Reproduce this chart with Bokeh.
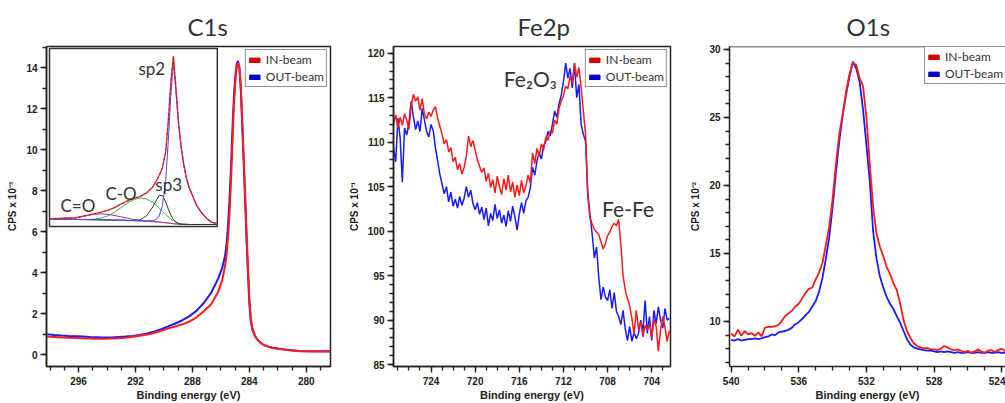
from bokeh.plotting import figure
from bokeh.layouts import row
from bokeh.models import (Range1d, SingleIntervalTicker, Legend, LegendItem,
                          BoxAnnotation, Label, Span)
from bokeh.embed import file_html
from bokeh.resources import INLINE
from bokeh.core.properties import value

# ---------------------------------------------------------------- data
# C 1s survey, counts x 10^-3
c1s_energy = [298.2, 297.7, 297.2, 296.7, 296.2, 295.7, 295.2, 294.7, 294.2, 293.7,
              293.2, 292.7, 292.2, 291.7, 291.2, 290.7, 290.2, 289.7, 289.2, 288.7,
              288.2, 287.7, 287.2, 286.7, 286.2, 285.9, 285.7, 285.6, 285.5, 285.4,
              285.3, 285.2, 285.1, 285.0, 284.9, 284.8, 284.7, 284.6, 284.5, 284.4,
              284.3, 284.2, 284.1, 284.0, 283.9, 283.8, 283.6, 283.4, 283.2, 283.0,
              282.7, 282.4, 282.0, 281.5, 281.0, 280.5, 280.0, 279.5, 279.0, 278.3]
c1s_out = [1.00, 0.96, 0.93, 0.91, 0.90, 0.88, 0.86, 0.85, 0.84, 0.84,
           0.86, 0.88, 0.91, 0.96, 1.03, 1.12, 1.24, 1.38, 1.52, 1.68,
           1.88, 2.15, 2.52, 3.00, 3.70, 4.25, 4.85, 5.40, 6.30, 7.50,
           9.00, 10.80, 12.40, 13.50, 14.15, 14.35, 14.00, 12.90, 11.20, 9.40,
           7.60, 5.70, 4.00, 2.50, 1.65, 1.25, 0.90, 0.70, 0.58, 0.48,
           0.40, 0.35, 0.30, 0.25, 0.21, 0.18, 0.17, 0.16, 0.16, 0.16]
c1s_in = [0.88, 0.86, 0.84, 0.82, 0.81, 0.80, 0.79, 0.78, 0.78, 0.79,
          0.80, 0.83, 0.87, 0.92, 0.98, 1.06, 1.16, 1.28, 1.38, 1.48,
          1.62, 1.82, 2.12, 2.45, 3.05, 3.65, 4.35, 4.90, 5.70, 6.80,
          8.30, 10.10, 11.90, 13.20, 14.00, 14.25, 14.05, 13.10, 11.50, 9.70,
          7.90, 6.00, 4.30, 2.75, 1.80, 1.32, 0.92, 0.70, 0.57, 0.47,
          0.39, 0.33, 0.29, 0.24, 0.20, 0.17, 0.16, 0.15, 0.15, 0.15]

# C 1s peak fit (inset)
fit_energy = [294.0, 293.0, 292.0, 291.0, 290.5, 290.0, 289.5, 289.0, 288.5, 288.0,
              287.5, 287.0, 286.5, 286.0, 285.75, 285.5, 285.25, 285.0, 284.8, 284.6,
              284.4, 284.2, 284.0, 283.8, 283.6, 283.4, 283.2, 283.0, 282.6, 282.2,
              281.8, 281.4, 281.0]
fit_background = [0.32, 0.31, 0.30, 0.29, 0.28, 0.27, 0.26, 0.25, 0.24, 0.22,
                  0.20, 0.18, 0.15, 0.12, 0.10, 0.08, 0.05, 0.02, 0.00, -0.03,
                  -0.06, -0.08, -0.10, -0.11, -0.12, -0.12, -0.13, -0.13, -0.13, -0.13,
                  -0.13, -0.13, -0.13]
fit_c_double_o = [0.36, 0.40, 0.42, 0.67, 0.75, 0.78, 0.74, 0.65, 0.54, 0.42,
                  0.30, 0.22, 0.16, 0.12, 0.10, 0.08, 0.05, 0.02, 0.00, -0.03,
                  -0.06, -0.08, -0.10, -0.11, -0.12, -0.12, -0.13, -0.13, -0.13, -0.13,
                  -0.13, -0.13, -0.13]
fit_c_o = [0.32, 0.31, 0.30, 0.29, 0.33, 0.42, 0.61, 0.90, 1.29, 1.67,
           2.00, 2.15, 2.07, 1.77, 1.55, 1.28, 1.00, 0.72, 0.52, 0.34,
           0.19, 0.07, -0.02, -0.07, -0.10, -0.12, -0.13, -0.13, -0.13, -0.13,
           -0.13, -0.13, -0.13]
fit_sp3 = [0.32, 0.31, 0.30, 0.29, 0.28, 0.27, 0.26, 0.25, 0.24, 0.22,
           0.22, 0.26, 0.60, 1.37, 1.90, 2.38, 2.35, 1.82, 1.20, 0.67,
           0.29, 0.07, -0.05, -0.11, -0.12, -0.12, -0.13, -0.13, -0.13, -0.13,
           -0.13, -0.13, -0.13]
fit_sp2 = [0.32, 0.31, 0.30, 0.29, 0.28, 0.27, 0.26, 0.25, 0.24, 0.22,
           0.20, 0.18, 0.18, 0.20, 0.30, 0.60, 1.50, 3.60, 7.00, 11.00,
           13.75, 11.20, 8.40, 6.50, 5.00, 3.90, 3.10, 2.55, 1.50, 0.85,
           0.35, 0.05, -0.05]
fit_envelope = [0.36, 0.40, 0.45, 0.67, 0.80, 0.93, 1.09, 1.30, 1.59, 1.87,
                2.12, 2.27, 2.56, 3.10, 3.55, 4.10, 4.75, 6.10, 8.72, 12.07,
                14.35, 11.50, 8.53, 6.54, 5.02, 3.90, 3.10, 2.55, 1.50, 0.85,
                0.35, 0.05, -0.05]
fit_labels = ["sp2", "sp3", "C-O", "C=O"]

# Fe 2p, counts x 10^-1, 0.2 eV steps from 727.4 eV downwards
fe_start, fe_step = 727.4, 0.2
fe_in = [112.0, 113.1, 111.6, 112.8, 111.9, 113.2, 112.5, 111.4,
         114.0, 115.4, 114.6, 115.1, 113.6, 114.9, 113.2,
         112.6, 113.4, 112.9, 113.6, 114.0, 112.7, 111.8,
         110.9, 109.8, 110.3, 108.9, 109.4, 107.8, 108.3, 106.9, 107.6, 106.4, 107.2,
         108.4, 110.7, 109.5, 110.2, 109.1, 108.0, 107.3, 106.6,
         107.1, 105.6, 106.5, 104.9, 105.8, 104.3, 106.2, 105.0, 104.1, 105.9,
         104.6, 106.3, 104.4, 105.5, 103.8, 105.2, 104.0, 105.7, 104.3, 105.1,
         106.3, 105.4, 108.8, 107.6, 109.3, 108.4, 109.8, 109.1, 110.6, 110.2, 111.3, 111.0,
         112.5, 112.0, 113.8, 114.6, 115.2, 116.3, 116.0, 117.4, 116.6, 118.9,
         117.3, 118.4, 116.2, 113.5, 111.0,
         104.0, 101.5, 100.8, 100.2, 99.9, 99.6, 98.8, 98.0, 98.6, 99.5,
         99.9, 100.5, 100.9, 100.6, 101.3, 98.5, 95.0, 93.4, 92.4, 91.6,
         90.2, 88.4, 91.1, 89.0, 89.8, 88.1, 89.4, 88.9, 89.6, 88.0,
         90.1, 89.3, 86.5, 88.9, 90.4, 89.2, 87.6, 88.8]
fe_out = [109.4, 107.8, 112.7, 110.5, 105.5, 111.6, 110.8, 112.2,
          114.6, 112.9, 111.4, 112.4, 111.2, 113.8, 112.5,
          111.2, 110.6, 112.0, 111.3, 109.4, 107.9, 106.4,
          105.3, 104.2, 105.0, 103.3, 104.4, 102.8, 103.6, 102.6, 103.9, 102.9, 103.7,
          105.0, 103.8, 104.6, 103.1, 102.4, 103.2, 101.9, 102.7,
          101.3, 102.6, 100.6, 102.0, 101.2, 103.0, 101.4, 102.4, 100.9, 101.8,
          100.5, 102.3, 101.1, 102.8, 101.6, 100.1, 101.9, 103.2, 102.0, 103.4,
          103.8, 104.9, 107.2, 106.3, 107.9, 108.8, 108.1, 109.6, 110.1, 111.2, 110.7, 112.0,
          113.5, 112.8, 114.3, 115.3, 116.8, 118.9, 117.2, 118.3, 116.1, 118.9,
          115.0, 116.5, 112.0, 110.9, 110.1,
          104.5, 101.9, 99.7, 97.0, 98.2, 94.8, 92.3, 93.7, 92.6, 92.2,
          93.4, 91.3, 93.1, 91.0, 90.4, 89.5, 91.1, 89.0, 87.7, 89.3,
          87.6, 88.6, 87.9, 88.5, 90.0, 88.7, 92.2, 88.5, 90.4, 87.7,
          91.1, 89.6, 91.5, 90.0, 89.1, 91.3, 90.0, 90.2]

# O 1s, counts x 10^-2, 0.2 eV steps from 540.0 eV downwards
o1s_start, o1s_step = 540.0, 0.2
o1s_in = [9.10, 8.90, 9.40, 8.95, 9.30, 9.05, 9.15, 8.95, 9.20, 8.90,
          9.55, 9.60, 9.60, 9.65, 9.75, 10.05, 10.40, 10.60, 10.80, 11.10,
          11.30, 11.70, 12.10, 12.40, 12.50, 13.10, 13.60, 14.30, 15.60, 17.00,
          19.00, 21.60, 23.80, 25.30, 26.90, 28.20, 29.05, 28.85, 27.90, 27.30,
          25.00, 21.60, 18.40, 16.45, 15.50, 14.80, 14.00, 13.50, 12.80, 12.30,
          11.30, 10.10, 9.30, 8.80, 8.40, 8.20, 8.10, 8.00, 8.05, 7.95,
          7.95, 7.90, 8.00, 8.20, 8.10, 7.95, 7.90, 7.95, 7.85, 7.75,
          7.85, 7.70, 7.80, 7.95, 7.80, 7.70, 7.85, 7.90, 7.75, 7.90,
          8.00, 7.85, 7.95]
o1s_out = [8.65, 8.60, 8.70, 8.60, 8.65, 8.70, 8.70, 8.75, 8.70, 8.75,
           8.85, 8.90, 9.05, 9.00, 9.20, 9.25, 9.30, 9.40, 9.55, 9.80,
           9.95, 10.20, 10.45, 10.70, 11.10, 11.50, 12.20, 13.20, 14.60, 16.20,
           18.40, 21.00, 23.30, 25.20, 26.70, 28.00, 29.10, 28.60, 27.60, 25.60,
           23.00, 20.30, 16.60, 14.60, 13.30, 12.50, 11.80, 11.30, 10.90, 10.40,
           9.90, 9.30, 8.70, 8.30, 8.10, 8.00, 7.95, 7.90, 7.85, 7.85,
           7.80, 7.75, 7.80, 7.75, 7.80, 7.75, 7.70, 7.75, 7.70, 7.70,
           7.75, 7.70, 7.70, 7.75, 7.70, 7.70, 7.75, 7.70, 7.70, 7.75,
           7.70, 7.70, 7.75]

fe_energy = [round(fe_start - i * fe_step, 2) for i in range(len(fe_in))]
o1s_energy = [round(o1s_start - i * o1s_step, 2) for i in range(len(o1s_in))]

# ---------------------------------------------------------------- style
RED = "#ff1a1a"
BLUE = "#1a1aff"
SWATCH_RED = "#d40000"
SWATCH_BLUE = "#0000cc"
INK = "#222222"
SOFT_INK = "#333333"
HEAD_FONT = "Lato"
AXIS_FONT = "Liberation Sans"
CANVAS_H = 403
NAN = float("nan")


def make_panel(width, left, right, top, bottom, x_range, y_range, y_step, y_minor,
               ylabel, title, title_offset, outline=True):
    p = figure(width=width, height=CANVAS_H, x_range=Range1d(*x_range),
               y_range=Range1d(*y_range), output_backend="svg",
               toolbar_location=None, min_border_left=left, min_border_right=right,
               min_border_top=top, min_border_bottom=bottom, title=title)
    p.xgrid.visible = False
    p.ygrid.visible = False
    p.background_fill_color = "white"
    p.border_fill_color = "white"
    p.outline_line_color = INK if outline else None
    p.outline_line_width = 1.5

    p.title.align = "left"
    p.title.offset = title_offset
    p.title.text_font = HEAD_FONT
    p.title.text_font_size = "24px"
    p.title.text_font_style = "normal"
    p.title.text_color = SOFT_INK
    p.title.standoff = 12

    p.xaxis.ticker = SingleIntervalTicker(interval=4, num_minor_ticks=4)
    p.yaxis.ticker = SingleIntervalTicker(interval=y_step, num_minor_ticks=y_minor)
    for ax in (p.xaxis[0], p.yaxis[0]):
        ax.axis_line_color = INK
        ax.axis_line_width = 1.5
        ax.major_tick_line_color = INK
        ax.minor_tick_line_color = INK
        ax.major_tick_line_width = 1.3
        ax.minor_tick_line_width = 1.3
        ax.major_tick_in = 0
        ax.major_tick_out = 6
        ax.minor_tick_in = 0
        ax.minor_tick_out = 4
        ax.major_label_text_font = AXIS_FONT
        ax.major_label_text_font_style = "bold"
        ax.major_label_text_font_size = "10px"
        ax.major_label_text_color = INK
        ax.axis_label_text_font = AXIS_FONT
        ax.axis_label_text_font_style = "bold"
        ax.axis_label_text_color = INK
    p.xaxis.axis_label = "Binding energy (eV)"
    p.xaxis.axis_label_text_font_size = "11px"
    p.xaxis.major_label_standoff = 4
    p.xaxis.axis_label_standoff = 1
    p.yaxis.axis_label = ylabel
    p.yaxis.axis_label_text_font_size = "10px"
    p.yaxis.major_label_standoff = 3
    p.yaxis.axis_label_standoff = 5
    return p


def add_legend(p, location):
    # swatch-only renderers: one undefined point each, so nothing lands in the frame
    sw_in = p.quad(left=[NAN], right=[NAN], top=[NAN], bottom=[NAN],
                   fill_color=SWATCH_RED, line_color=SWATCH_RED)
    sw_out = p.quad(left=[NAN], right=[NAN], top=[NAN], bottom=[NAN],
                    fill_color=SWATCH_BLUE, line_color=SWATCH_BLUE)
    legend = Legend(items=[LegendItem(label="IN-beam", renderers=[sw_in]),
                           LegendItem(label="OUT-beam", renderers=[sw_out])],
                    location=location)
    legend.border_line_color = INK
    legend.border_line_width = 1
    legend.background_fill_color = "white"
    legend.background_fill_alpha = 1
    legend.label_text_font = HEAD_FONT
    legend.label_text_font_size = "12px"
    legend.label_text_color = SOFT_INK
    legend.glyph_width = 13
    legend.glyph_height = 6
    legend.label_height = 14
    legend.label_standoff = 5
    legend.spacing = 2
    legend.padding = 2
    legend.margin = 3
    p.add_layout(legend)


# ---------------------------------------------------------------- C 1s
p1 = make_panel(340, 46, 10, 45, 37, (298.25, 278.3), (-0.58, 15.05), 2, 2,
                "CPS x 10\u207b\u00b3", "C1s", 141)

# inset frame holding the peak fit
inset_x = (298.04, 286.25)
inset_y = (6.26, 14.95)
p1.add_layout(BoxAnnotation(left=inset_x[0], right=inset_x[1], bottom=inset_y[0],
                            top=inset_y[1], fill_color="white", fill_alpha=1,
                            line_color="#333333", line_width=1.5, line_alpha=1,
                            level="underlay"))
inset = p1.subplot(x_source=Range1d(294.0, 281.0), y_source=Range1d(-0.3, 15.0),
                   x_target=Range1d(*inset_x), y_target=Range1d(*inset_y))
inset.line(fit_energy, fit_background, line_color="#b08050", line_width=1)
inset.line(fit_energy, fit_c_double_o, line_color="#9933aa", line_width=1)
inset.line(fit_energy, fit_c_o, line_color="#33b833", line_width=1)
inset.line(fit_energy, fit_sp3, line_color="#333333", line_width=1)
inset.line(fit_energy, fit_sp2, line_color="#4a4aff", line_width=1)
inset.line(fit_energy, fit_envelope, line_color="#e03030", line_width=1.4)
inset.line(fit_energy, fit_envelope, line_color="#7a2050", line_width=0.8,
           line_dash="2 3")
inset.text(x=[287.11, 285.8, 289.67, 293.15], y=[13.25, 3.35, 2.55, 1.5],
           text=fit_labels, text_font=value(HEAD_FONT), text_font_size="17px",
           text_color=SOFT_INK, text_align="left", text_baseline="alphabetic")

p1.line(c1s_energy, c1s_out, line_color=BLUE, line_width=2)
p1.line(c1s_energy, c1s_in, line_color=RED, line_width=2)
add_legend(p1, "top_right")

# ---------------------------------------------------------------- Fe 2p
p2 = make_panel(340, 53, 10, 45, 37, (727.4, 702.3), (84.78, 120.76), 5, 5,
                "CPS x 10\u207b\u00b9", "Fe2p", 124)
p2.line(fe_energy, fe_out, line_color=BLUE, line_width=1.5)
p2.line(fe_energy, fe_in, line_color=RED, line_width=1.5)
p2.add_layout(Label(x=717.4, y=117.2, text="Fe\u2082O\u2083", text_font=HEAD_FONT,
                    text_font_size="21px", text_color=SOFT_INK,
                    text_baseline="alphabetic"))
p2.add_layout(Label(x=708.5, y=102.6, text="Fe-Fe", text_font=HEAD_FONT,
                    text_font_size="21px", text_color=SOFT_INK,
                    text_baseline="alphabetic"))
add_legend(p2, "top_right")

# ---------------------------------------------------------------- O 1s
p3 = make_panel(325, 49, 0, 46, 37, (540.1, 523.77), (6.69, 30.22), 5, 5,
                "CPS x 10\u207b\u00b2", "O1s", 117, outline=False)
p3.add_layout(Span(location=30.22, dimension="width", line_color=INK, line_width=1.5))
p3.line(o1s_energy, o1s_out, line_color=BLUE, line_width=1.8)
p3.line(o1s_energy, o1s_in, line_color=RED, line_width=1.8)
add_legend(p3, (195, 282))

layout = row(p1, p2, p3)
open("out.html", "w").write(file_html(layout, INLINE))
